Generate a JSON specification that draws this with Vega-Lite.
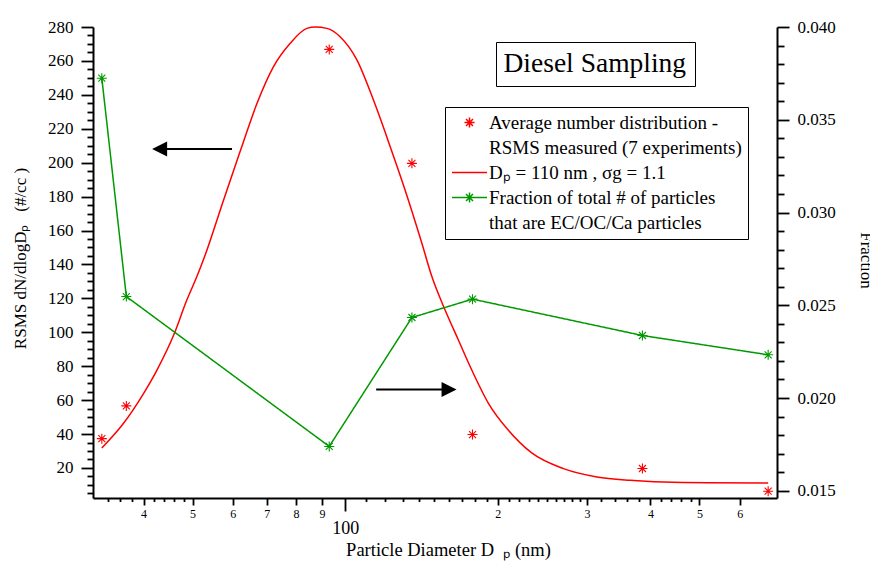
{
  "$schema": "https://vega.github.io/schema/vega-lite/v6.json",
  "width": 684,
  "height": 471,
  "autosize": {"type": "none"},
  "padding": {"left": 93, "top": 27, "right": 93, "bottom": 64},
  "background": "white",
  "config": {
    "view": {"stroke": null},
    "font": "Liberation Serif",
    "axis": {
      "grid": false,
      "labelFont": "Liberation Serif",
      "titleFont": "Liberation Serif",
      "titleFontWeight": "normal",
      "labelColor": "#000000",
      "titleColor": "#000000",
      "tickColor": "#000000",
      "domainColor": "#000000",
      "domainWidth": 2,
      "tickWidth": 1.8,
      "labelOverlap": false,
      "labelFlush": false
    }
  },
  "datasets": {
    "measured": [
      {"d": 33.1, "n": 37.3, "series": "Average number distribution -"},
      {"d": 37.0, "n": 56.6, "series": "Average number distribution -"},
      {"d": 93.0, "n": 266.8, "series": "Average number distribution -"},
      {"d": 135.4, "n": 199.6, "series": "Average number distribution -"},
      {"d": 178.3, "n": 39.7, "series": "Average number distribution -"},
      {"d": 385.8, "n": 19.7, "series": "Average number distribution -"},
      {"d": 683, "n": 6.3, "series": "Average number distribution -"}
    ],
    "curve": [
      {"d": 33.1, "n": 31.8}, {"d": 36.5, "n": 46.2}, {"d": 40.0, "n": 63.9},
      {"d": 42.5, "n": 77.6}, {"d": 45.9, "n": 98.5}, {"d": 48.7, "n": 119},
      {"d": 51.0, "n": 133}, {"d": 53.0, "n": 146}, {"d": 57.4, "n": 177},
      {"d": 62.1, "n": 207}, {"d": 67.0, "n": 235}, {"d": 72.2, "n": 256.6},
      {"d": 77.9, "n": 270.4}, {"d": 84.0, "n": 279.2}, {"d": 87.3, "n": 280},
      {"d": 92.0, "n": 279.2}, {"d": 97.7, "n": 274.3}, {"d": 105.5, "n": 260.5},
      {"d": 113.7, "n": 236.9}, {"d": 122.7, "n": 209.4}, {"d": 131.3, "n": 183.8},
      {"d": 141.7, "n": 152.4}, {"d": 148.3, "n": 132.7}, {"d": 157.5, "n": 113},
      {"d": 167.3, "n": 95.3}, {"d": 177.8, "n": 77.6}, {"d": 191.8, "n": 58},
      {"d": 209.9, "n": 42.2}, {"d": 233, "n": 29}, {"d": 269.6, "n": 19.6},
      {"d": 313.7, "n": 14.7}, {"d": 364.8, "n": 12.7}, {"d": 424.4, "n": 11.7},
      {"d": 520, "n": 11.3}, {"d": 683, "n": 11.2}
    ],
    "fraction": [
      {"d": 33.1, "f": 0.03724},
      {"d": 37.0, "f": 0.02547},
      {"d": 93.0, "f": 0.01739},
      {"d": 135.4, "f": 0.02434},
      {"d": 178.3, "f": 0.02533},
      {"d": 385.8, "f": 0.02337},
      {"d": 683, "f": 0.02233}
    ],
    "arrows": [
      {"dir": "left", "tail": 59.8, "head": 43.04, "n": 208},
      {"dir": "right", "tail": 115.1, "head": 160.3, "n": 66.3}
    ]
  },
  "layer": [
    {
      "layer": [
        {
          "data": {"name": "curve"},
          "mark": {"type": "line", "color": "#ff0000", "strokeWidth": 1.5, "interpolate": "monotone"},
          "encoding": {
            "x": {
              "field": "d",
              "type": "quantitative",
              "scale": {"type": "log", "domain": [31.8, 711], "nice": false},
              "axis": {
                "values": [34, 36, 38, 40, 42, 44, 46, 48, 50, 60, 70, 80, 90, 100, 110, 120, 130, 140, 150, 160, 170, 180, 190, 200, 210, 220, 230, 240, 250, 260, 270, 280, 290, 300, 320, 340, 360, 380, 400, 420, 440, 460, 480, 500, 600],
                "tickCount": 1000,
                "labelExpr": "datum.value == 100 ? '100' : (indexof([40,50,60,70,80,90], datum.value) >= 0 ? format(datum.value/10, 'd') : (indexof([200,300,400,500,600], datum.value) >= 0 ? format(datum.value/100, 'd') : ''))",
                "tickSize": {"condition": [{"test": "datum.value == 100", "value": 13}, {"test": "indexof([40,50,60,70,80,90,200,300,400,500,600], datum.value) >= 0", "value": 7}], "value": 3.5},
                "labelFontSize": {"condition": {"test": "datum.value == 100", "value": 18}, "value": 12},
                "labelPadding": {"condition": {"test": "datum.value == 100", "value": 8}, "value": 3},
                "title": "Particle Diameter D\u2002\u209a (nm)",
                "titleFontSize": 18.5,
                "titleX": 355,
                "titleY": 57,
                "titleBaseline": "alphabetic",
                "titleAlign": "center",
                "titleAngle": 0
              }
            },
            "y": {
              "field": "n",
              "type": "quantitative",
              "scale": {"domain": [2.3, 280], "nice": false, "zero": false},
              "axis": {
                "values": [5, 10, 15, 20, 25, 30, 35, 40, 45, 50, 55, 60, 65, 70, 75, 80, 85, 90, 95, 100, 105, 110, 115, 120, 125, 130, 135, 140, 145, 150, 155, 160, 165, 170, 175, 180, 185, 190, 195, 200, 205, 210, 215, 220, 225, 230, 235, 240, 245, 250, 255, 260, 265, 270, 275, 280],
                "tickCount": 1000,
                "labelExpr": "datum.value % 20 == 0 ? format(datum.value, 'd') : ''",
                "tickSize": {"condition": {"test": "datum.value % 20 == 0", "value": 12}, "value": 6},
                "labelFontSize": 17,
                "labelPadding": 8,
                "title": "RSMS dN/dlogD\u209a\u00a0\u00a0\u00a0(#/cc )",
                "titleFontSize": 17,
                "titleX": -68,
                "titleY": 231,
                "titleAngle": -90,
                "titleBaseline": "alphabetic",
                "titleAlign": "center"
              }
            }
          }
        },
        {
          "data": {"name": "measured"},
          "mark": {"type": "point", "filled": false, "size": 100, "strokeWidth": 1.1, "opacity": 1},
          "encoding": {
            "x": {"field": "d", "type": "quantitative"},
            "y": {"field": "n", "type": "quantitative"},
            "color": {
              "field": "series",
              "type": "nominal",
              "scale": {
                "domain": ["Average number distribution -", "RSMS measured (7 experiments)", "D\u209a = 110 nm , \u03c3g = 1.1", "Fraction of total # of particles", "that are EC/OC/Ca particles"],
                "range": ["#ff0000", "#ff0000", "#ff0000", "#009a00", "#009a00"]
              },
              "legend": {
                "orient": "none", "legendX": 352, "legendY": 80, "title": null,
                "strokeColor": "#000000", "fillColor": "#ffffff", "padding": 6,
                "symbolOffset": 9, "labelOffset": 10,
                "labelFont": "Liberation Serif", "labelFontSize": 19, "labelColor": "#000000", "labelLimit": 600,
                "rowPadding": 5, "symbolSize": 100, "symbolStrokeWidth": 1.5, "symbolOpacity": 1
              }
            },
            "shape": {
              "field": "series",
              "type": "nominal",
              "scale": {
                "domain": ["Average number distribution -", "RSMS measured (7 experiments)", "D\u209a = 110 nm , \u03c3g = 1.1", "Fraction of total # of particles", "that are EC/OC/Ca particles"],
                "range": ["M0,-1V1M-1,0H1M-0.7,-0.7L0.7,0.7M-0.7,0.7L0.7,-0.7", "M0,0", "M-3.5,0H3.5", "M-3.5,0H3.5M0,-1V1M-0.7,-0.7L0.7,0.7M-0.7,0.7L0.7,-0.7", "M0,0"]
              },
              "legend": {
                "orient": "none", "legendX": 352, "legendY": 80, "title": null,
                "strokeColor": "#000000", "fillColor": "#ffffff", "padding": 6,
                "symbolOffset": 9, "labelOffset": 10,
                "labelFont": "Liberation Serif", "labelFontSize": 19, "labelColor": "#000000", "labelLimit": 600,
                "rowPadding": 5, "symbolSize": 100, "symbolStrokeWidth": 1.5, "symbolOpacity": 1
              }
            }
          }
        },
        {
          "data": {"name": "arrows"},
          "mark": {"type": "rule", "color": "#000000", "strokeWidth": 2},
          "encoding": {
            "x": {"field": "tail", "type": "quantitative"},
            "x2": {"field": "head"},
            "y": {"field": "n", "type": "quantitative"}
          }
        },
        {
          "data": {"name": "arrows"},
          "transform": [{"filter": "datum.dir == 'left'"}],
          "mark": {"type": "point", "shape": "M-1,0L1,-1L1,1Z", "filled": true, "size": 225, "color": "#000000", "opacity": 1},
          "encoding": {
            "x": {"field": "head", "type": "quantitative"},
            "y": {"field": "n", "type": "quantitative"}
          }
        },
        {
          "data": {"name": "arrows"},
          "transform": [{"filter": "datum.dir == 'right'"}],
          "mark": {"type": "point", "shape": "M1,0L-1,-1L-1,1Z", "filled": true, "size": 225, "color": "#000000", "opacity": 1},
          "encoding": {
            "x": {"field": "head", "type": "quantitative"},
            "y": {"field": "n", "type": "quantitative"}
          }
        }
      ]
    },
    {
      "layer": [
        {
          "data": {"name": "fraction"},
          "mark": {"type": "line", "color": "#009a00", "strokeWidth": 1.5},
          "encoding": {
            "x": {"field": "d", "type": "quantitative"},
            "y": {
              "field": "f",
              "type": "quantitative",
              "scale": {"domain": [0.01461, 0.04], "nice": false, "zero": false},
              "axis": {
                "orient": "right",
                "values": [0.015, 0.016, 0.017, 0.018, 0.019, 0.02, 0.021, 0.022, 0.023, 0.024, 0.025, 0.026, 0.027, 0.028, 0.029, 0.03, 0.031, 0.032, 0.033, 0.034, 0.035, 0.036, 0.037, 0.038, 0.039, 0.04],
                "tickCount": 1000,
                "labelExpr": "abs(datum.value*200 - round(datum.value*200)) < 0.001 ? format(datum.value, '.3f') : ''",
                "tickSize": {"condition": {"test": "abs(datum.value*200 - round(datum.value*200)) < 0.001", "value": 12}, "value": 7},
                "labelFontSize": 17,
                "labelPadding": 8,
                "title": "Fraction",
                "titleFontSize": 17,
                "titleX": 83,
                "titleY": 233,
                "titleAngle": 90,
                "titleBaseline": "alphabetic",
                "titleAlign": "center"
              }
            },
            "strokeDash": {
              "datum": "Diesel Sampling",
              "type": "nominal",
              "scale": {"domain": ["Diesel Sampling"], "range": [[1, 0]]},
              "legend": {
                "orient": "none", "legendX": 403, "legendY": 15, "title": null,
                "strokeColor": "#000000", "fillColor": "#ffffff", "padding": 8,
                "labelFont": "Liberation Serif", "labelFontSize": 27.5, "labelColor": "#000000",
                "labelOffset": -28, "labelLimit": 600, "symbolSize": 0, "symbolOpacity": 0, "symbolStrokeWidth": 0
              }
            }
          }
        },
        {
          "data": {"name": "fraction"},
          "mark": {"type": "point", "shape": "M0,-1V1M-1,0H1M-0.7,-0.7L0.7,0.7M-0.7,0.7L0.7,-0.7", "filled": false, "size": 100, "strokeWidth": 1.1, "color": "#009a00", "opacity": 1},
          "encoding": {
            "x": {"field": "d", "type": "quantitative"},
            "y": {"field": "f", "type": "quantitative"}
          }
        }
      ]
    }
  ],
  "resolve": {"scale": {"y": "independent"}}
}
